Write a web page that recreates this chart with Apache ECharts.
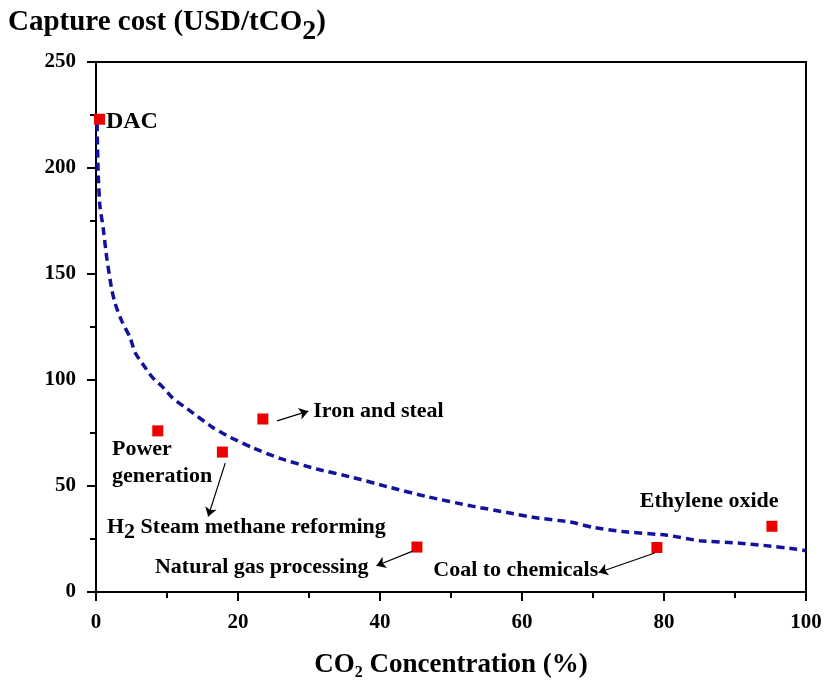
<!DOCTYPE html>
<html>
<head>
<meta charset="utf-8">
<script src="https://cdn.jsdelivr.net/npm/echarts@6/dist/echarts.min.js"></script>
<style>html,body{margin:0;padding:0;background:#fff;}#c{width:838px;height:683px;}</style>
</head>
<body>
<div id="c"></div>
<script>
// Fitted trend curve
var curveX = [0.15, 0.3, 0.55, 1.0, 1.5, 2.2, 2.7, 3.6, 4.8, 5.5, 6.9, 8.0, 9.3, 10.8, 12.8, 16.5, 18.9, 22.1, 25.9, 31.1, 36.2, 41, 46.6, 53, 57.9, 62, 66.8, 70, 74.2, 80.4, 85, 90.7, 94, 98.7, 100];
var curveY = [221, 198, 182, 172, 158, 143, 136, 128, 120, 113, 106, 101, 97, 91.5, 86.5, 77.5, 73, 68, 63, 58, 54, 49.7, 45, 40.5, 37.5, 35, 33, 30.5, 28.5, 26.8, 24.2, 23, 22, 20.2, 19.5];

// Sources
var pointNames = ['DAC', 'Power generation', 'H2 Steam methane reforming', 'Iron and steal', 'Natural gas processing', 'Coal to chemicals', 'Ethylene oxide'];
var pointX = [0.5, 8.7, 17.8, 23.5, 45.2, 79.0, 95.2];
var pointY = [223, 76, 66, 81.6, 21.2, 21, 31];

// Tick labels
var xTicks = [0, 20, 40, 60, 80, 100];
var yTicks = [0, 50, 100, 150, 200, 250];

// Annotation texts
var labelTexts = ['{d|DAC}', 'Power\ngeneration', '{b|H}{s|2}{b| Steam methane reforming}', 'Iron and steal', 'Natural gas processing', 'Coal to chemicals', 'Ethylene oxide'];
// annotation anchors (data coords, left-middle of text)
var labelAnchorX = [1.4, 2.25, 1.55, 30.6, 8.3, 47.5, 76.6];
var labelAnchorY = [222, 61, 30.7, 85, 11.8, 10.4, 43];
// arrows (data coords): from -> to
var arrows = [
  [[25.5, 80.7], [29.9, 85.3]],
  [[18.2, 60.8], [15.8, 35.6]],
  [[44.6, 19.3], [39.5, 12.4]],
  [[78.7, 18.4], [70.8, 9.2]]
];

var FONT = '"Liberation Serif", "Times New Roman", serif';
var INK = '#000';

var chart = echarts.init(document.getElementById('c'), null, {renderer: 'canvas'});

var curveData = curveX.map(function (x, i) { return [x, curveY[i]]; });
var pts = pointX.map(function (x, i) { return {name: pointNames[i], value: [x, pointY[i]]}; });
var lbls = labelAnchorX.map(function (x, i) { return {value: [x, labelAnchorY[i]], txt: labelTexts[i]}; });

chart.setOption({
  animation: false,
  backgroundColor: '#fff',
  title: {
    left: 3, top: 1,
    text: '{m|Capture cost (USD/tCO}{s|2}{m|)}',
    textStyle: {
      rich: {
        m: {fontFamily: FONT, fontWeight: 'bold', fontSize: 29, color: INK, lineHeight: 34},
        s: {fontFamily: FONT, fontWeight: 'bold', fontSize: 28, color: INK, padding: [18, 0, 0, 0], lineHeight: 34}
      }
    }
  },
  grid: {left: 96, right: 32, top: 62, bottom: 91, outerBoundsMode: 'none', containLabel: false,
    show: true, borderColor: INK, borderWidth: 2, backgroundColor: 'transparent'},
  xAxis: {
    type: 'value', min: 0, max: 100, interval: 20,
    name: '{m|CO}{s|2}{m| Concentration (%)}',
    nameLocation: 'middle', nameGap: 57,
    nameTextStyle: {
      rich: {
        m: {fontFamily: FONT, fontWeight: 'bold', fontSize: 27, color: INK},
        s: {fontFamily: FONT, fontWeight: 'bold', fontSize: 16, color: INK, padding: [16, 0, 0, 0]}
      }
    },
    axisLine: {show: true, lineStyle: {color: INK, width: 2}},
    axisTick: {show: true, inside: false, length: 9, lineStyle: {color: INK, width: 2}},
    minorTick: {show: true, splitNumber: 2, length: 6, lineStyle: {color: INK, width: 2}},
    splitLine: {show: false},
    axisLabel: {margin: 20, fontFamily: FONT, fontWeight: 'bold', fontSize: 21, color: INK,
      formatter: function (v) { return xTicks.indexOf(v) >= 0 ? String(v) : ''; }}
  },
  yAxis: {
    type: 'value', min: 0, max: 250, interval: 50,
    axisLine: {show: true, lineStyle: {color: INK, width: 2}},
    axisTick: {show: true, inside: false, length: 9, lineStyle: {color: INK, width: 2}},
    minorTick: {show: true, splitNumber: 2, length: 6, lineStyle: {color: INK, width: 2}},
    splitLine: {show: false},
    axisLabel: {margin: 20, fontFamily: FONT, fontWeight: 'bold', fontSize: 21, color: INK,
      formatter: function (v) { return yTicks.indexOf(v) >= 0 ? String(v) : ''; }}
  },
  series: [
    {
      type: 'line', data: curveData, showSymbol: false, symbol: 'none', smooth: 0.2,
      lineStyle: {color: '#12129c', width: 3.5, type: [8, 5], opacity: 1},
      z: 2, silent: true
    },
    {
      type: 'scatter', data: pts, symbol: 'rect', symbolSize: 11,
      itemStyle: {color: '#ee0000', opacity: 1}, z: 4, silent: true,
      markLine: {
        silent: true, symbol: ['none', 'arrow'], symbolSize: 9, precision: 3,
        label: {show: false},
        lineStyle: {color: INK, width: 1.2, type: 'solid', opacity: 1},
        data: arrows.map(function (a) { return [{coord: a[0]}, {coord: a[1]}]; })
      }
    },
    {
      type: 'scatter', data: lbls, symbolSize: 0, silent: true, z: 5,
      itemStyle: {opacity: 1},
      label: {
        show: true, position: 'right', distance: 0, opacity: 1,
        fontFamily: FONT, fontWeight: 'bold', fontSize: 22, color: INK, lineHeight: 27,
        formatter: function (p) { return p.data.txt; },
        rich: {
          b: {fontFamily: FONT, fontWeight: 'bold', fontSize: 22, color: INK},
          s: {fontFamily: FONT, fontWeight: 'bold', fontSize: 22, color: INK, padding: [10, 0, 0, 0]},
          d: {fontFamily: FONT, fontWeight: 'bold', fontSize: 24, color: INK}
        }
      }
    }
  ]
});
</script>
</body>
</html>
